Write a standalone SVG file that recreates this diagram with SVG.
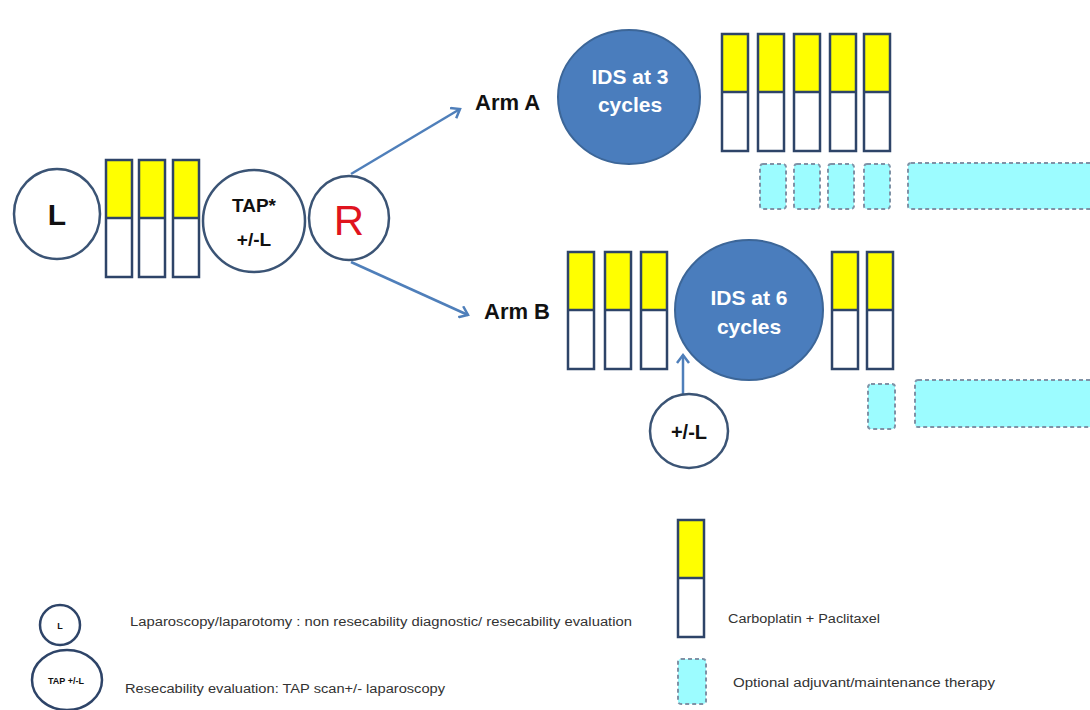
<svg xmlns="http://www.w3.org/2000/svg" xmlns:xlink="http://www.w3.org/1999/xlink" width="1090" height="710" viewBox="0 0 1090 710">
<style>
.ring{fill:#fff;stroke:#3B5475;stroke-width:2.5}
.ids{fill:#4A7DBD;stroke:#3C6698;stroke-width:2}
.lbl{font-family:"Liberation Sans",Arial,sans-serif;font-weight:bold;fill:#111}
.idst{font-family:"Liberation Sans",Arial,sans-serif;font-weight:bold;fill:#fff;font-size:21px}
.opt{fill:#9CFCFF;stroke:#7F92A6;stroke-width:2;stroke-dasharray:4 3}
.leg{font-family:"Liberation Sans",Arial,sans-serif;fill:#333;font-size:12px}
.conn{stroke:#4F7FBA;stroke-width:2.5;fill:none}
</style>
<defs>
<marker id="arr" markerWidth="14" markerHeight="14" refX="10" refY="7" orient="auto" markerUnits="userSpaceOnUse">
<path d="M2,1 L10,7 L2,13" fill="none" stroke="#4F7FBA" stroke-width="2.5"/>
</marker>
<g id="chemo">
<rect x="0" y="0" width="26" height="58" fill="#FFFF00"/>
<rect x="0" y="58" width="26" height="59" fill="#fff"/>
<rect x="0" y="0" width="26" height="117" fill="none" stroke="#2E4468" stroke-width="2.5"/>
<line x1="0" y1="58" x2="26" y2="58" stroke="#2E4468" stroke-width="2.5"/>
</g>
</defs>
<rect width="1090" height="710" fill="#fff"/>

<g id="connectors">
<line class="conn" x1="351" y1="174" x2="460" y2="109" marker-end="url(#arr)"/>
<line class="conn" x1="351" y1="262" x2="468" y2="315" marker-end="url(#arr)"/>
<line class="conn" x1="683" y1="397" x2="683" y2="355" marker-end="url(#arr)"/>
</g>

<g id="node-L">
<ellipse class="ring" cx="57" cy="214" rx="43" ry="45"/>
<text class="lbl" x="57" y="225" font-size="30" text-anchor="middle">L</text>
</g>
<g id="pre-cycle-1"><use xlink:href="#chemo" x="106" y="160"/></g>
<g id="pre-cycle-2"><use xlink:href="#chemo" x="139" y="160"/></g>
<g id="pre-cycle-3"><use xlink:href="#chemo" x="173" y="160"/></g>
<g id="node-TAP">
<circle class="ring" cx="254" cy="221" r="51"/>
<text class="lbl" x="254" y="212" font-size="19" text-anchor="middle">TAP*</text>
<text class="lbl" x="254" y="246" font-size="19" text-anchor="middle">+/-L</text>
</g>
<g id="node-R">
<ellipse class="ring" cx="349" cy="218" rx="40" ry="42"/>
<text x="349" y="235" font-family="Liberation Sans,Arial,sans-serif" font-size="42" fill="#E0141E" text-anchor="middle">R</text>
</g>

<g id="label-armA"><text class="lbl" x="475" y="110" font-size="22">Arm A</text></g>
<g id="label-armB"><text class="lbl" x="484" y="319" font-size="22">Arm B</text></g>

<g id="node-IDS3">
<ellipse class="ids" cx="629" cy="97" rx="71" ry="67"/>
<text class="idst" x="630" y="84" text-anchor="middle">IDS at 3</text>
<text class="idst" x="630" y="112" text-anchor="middle">cycles</text>
</g>
<g id="armA-cycle-1"><use xlink:href="#chemo" x="722" y="34"/></g>
<g id="armA-cycle-2"><use xlink:href="#chemo" x="758" y="34"/></g>
<g id="armA-cycle-3"><use xlink:href="#chemo" x="794" y="34"/></g>
<g id="armA-cycle-4"><use xlink:href="#chemo" x="830" y="34"/></g>
<g id="armA-cycle-5"><use xlink:href="#chemo" x="864" y="34"/></g>
<g id="armA-opt-1"><rect class="opt" x="760" y="164" width="26" height="45" rx="3"/></g>
<g id="armA-opt-2"><rect class="opt" x="794" y="164" width="26" height="45" rx="3"/></g>
<g id="armA-opt-3"><rect class="opt" x="828" y="164" width="26" height="45" rx="3"/></g>
<g id="armA-opt-4"><rect class="opt" x="864" y="164" width="26" height="45" rx="3"/></g>
<g id="armA-opt-long"><rect class="opt" x="908" y="163" width="190" height="46" rx="3"/></g>

<g id="armB-cycle-1"><use xlink:href="#chemo" x="568" y="252"/></g>
<g id="armB-cycle-2"><use xlink:href="#chemo" x="605" y="252"/></g>
<g id="armB-cycle-3"><use xlink:href="#chemo" x="641" y="252"/></g>
<g id="node-IDS6">
<ellipse class="ids" cx="749" cy="310" rx="74" ry="70"/>
<text class="idst" x="749" y="305" text-anchor="middle">IDS at 6</text>
<text class="idst" x="749" y="334" text-anchor="middle">cycles</text>
</g>
<g id="armB-cycle-4"><use xlink:href="#chemo" x="832" y="252"/></g>
<g id="armB-cycle-5"><use xlink:href="#chemo" x="867" y="252"/></g>
<g id="armB-opt-1"><rect class="opt" x="868" y="384" width="27" height="45" rx="3"/></g>
<g id="armB-opt-long"><rect class="opt" x="915" y="380" width="185" height="47" rx="3"/></g>
<g id="node-L-B">
<ellipse class="ring" cx="689" cy="431" rx="39" ry="37"/>
<text class="lbl" x="689" y="439" font-size="20" text-anchor="middle">+/-L</text>
</g>

<g id="legend-L">
<circle cx="60" cy="625" r="20" fill="#fff" stroke="#2E4468" stroke-width="2.5"/>
<text class="lbl" x="60" y="629" font-size="9" text-anchor="middle">L</text>
<text class="leg" x="130" y="626" textLength="502" lengthAdjust="spacingAndGlyphs">Laparoscopy/laparotomy : non resecability diagnostic/ resecability evaluation</text>
</g>
<g id="legend-TAP">
<ellipse cx="67" cy="680" rx="35" ry="30" fill="#fff" stroke="#2E4468" stroke-width="2.5"/>
<text class="lbl" x="66" y="684" font-size="9" text-anchor="middle">TAP +/-L</text>
<text class="leg" x="125" y="693" textLength="320" lengthAdjust="spacingAndGlyphs">Resecability evaluation: TAP scan+/- laparoscopy</text>
</g>
<g id="legend-chemo">
<use xlink:href="#chemo" x="678" y="520"/>
<text class="leg" x="728" y="623" textLength="152" lengthAdjust="spacingAndGlyphs">Carboplatin + Paclitaxel</text>
</g>
<g id="legend-opt">
<rect class="opt" x="678" y="659" width="28" height="45" rx="3"/>
<text class="leg" x="733" y="687" textLength="262" lengthAdjust="spacingAndGlyphs">Optional adjuvant/maintenance therapy</text>
</g>
</svg>
